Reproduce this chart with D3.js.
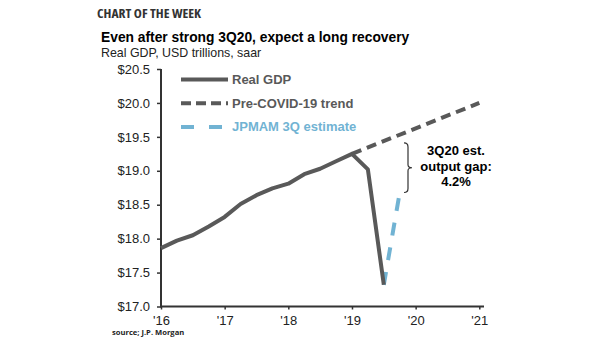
<!DOCTYPE html>
<html>
<head>
<meta charset="utf-8">
<title>Chart of the week</title>
<script src="https://d3js.org/d3.v7.min.js"></script>
<style>
  body { margin: 0; background: #fff; }
  text { font-family: "Liberation Sans", Arial, sans-serif; }
</style>
</head>
<body>
<div id="chart"></div>
<script>
// quarterly points, x in years
var gdpDates = [2016, 2016.25, 2016.5, 2016.75, 2017, 2017.25, 2017.5, 2017.75,
                2018, 2018.25, 2018.5, 2018.75, 2019, 2019.25, 2019.5];
var gdpValues = [17.86, 17.97, 18.05, 18.18, 18.32, 18.51, 18.64, 18.74,
                 18.81, 18.95, 19.03, 19.14, 19.25, 19.02, 17.32];
var trendDates = [2019, 2021];
var trendValues = [19.25, 20.0];
var estDates = [2019.5, 2019.75];
var estValues = [17.32, 18.68];
var yTicks = [17.0, 17.5, 18.0, 18.5, 19.0, 19.5, 20.0, 20.5];
var xTicks = [2016, 2017, 2018, 2019, 2020, 2021];
var xTickLabels = ["'16", "'17", "'18", "'19", "'20", "'21"];
var gapLabel = ["3Q20 est.", "output gap:", "4.2%"];

var W = 605, H = 341;
var gray = "#595959", blue = "#71b3d3";

var svg = d3.select("#chart").append("svg")
  .attr("width", W).attr("height", H);

var x = d3.scaleLinear().domain([2016, 2021]).range([161, 479.3]);
var y = d3.scaleLinear().domain([17, 20.5]).range([306.5, 69]);

// headings
svg.append("text").attr("x", 97).attr("y", 18)
  .style("font-family", "'Open Sans', sans-serif").style("font-stretch", "condensed")
  .style("font-weight", "bold").style("font-size", "12px").attr("fill", "#333")
  .attr("textLength", 104).attr("lengthAdjust", "spacingAndGlyphs")
  .text("CHART OF THE WEEK");
svg.append("text").attr("x", 101).attr("y", 42)
  .style("font-weight", "bold").style("font-size", "13.8px").attr("fill", "#000")
  .text("Even after strong 3Q20, expect a long recovery");
svg.append("text").attr("x", 101).attr("y", 57)
  .style("font-size", "12.4px").attr("fill", "#222")
  .text("Real GDP, USD trillions, saar");

// axes
var yAxis = svg.append("g").attr("transform", "translate(161,0)")
  .call(d3.axisLeft(y).tickValues(yTicks).tickSize(4).tickPadding(7)
    .tickFormat(function(d) { return "$" + d3.format(".1f")(d); }));
var xAxis = svg.append("g").attr("transform", "translate(0," + y(17) + ")")
  .call(d3.axisBottom(x).tickValues(xTicks).tickSize(3).tickPadding(6)
    .tickFormat(function(d, i) { return xTickLabels[i]; }));
xAxis.select(".domain").attr("d", "M161,0H484");
yAxis.select(".domain").attr("d", "M0," + y(20.5) + "V" + (y(17) + 1));
[xAxis, yAxis].forEach(function(a) {
  a.selectAll(".domain").attr("stroke", "#333").attr("stroke-width", 2);
  a.selectAll(".tick line").attr("stroke", "#333").attr("stroke-width", 1.5);
  a.selectAll("text").style("font-family", "'Liberation Sans', Arial, sans-serif")
    .style("font-size", "13px").attr("fill", "#222");
});

var line = d3.line().x(function(d) { return x(d[0]); }).y(function(d) { return y(d[1]); });
var zip = function(a, b) { return a.map(function(v, i) { return [v, b[i]]; }); };

svg.append("path").datum(zip(trendDates, trendValues)).attr("d", line)
  .attr("fill", "none").attr("stroke", gray).attr("stroke-width", 4)
  .attr("stroke-dasharray", "10,6");
svg.append("path").datum(zip(estDates, estValues)).attr("d", line)
  .attr("fill", "none").attr("stroke", blue).attr("stroke-width", 4)
  .attr("stroke-dasharray", "13,12");
svg.append("path").datum(zip(gdpDates, gdpValues)).attr("d", line)
  .attr("fill", "none").attr("stroke", gray).attr("stroke-width", 4)
  .attr("stroke-linejoin", "round");

// legend
var legend = [
  {label: "Real GDP", color: gray, dash: null},
  {label: "Pre-COVID-19 trend", color: gray, dash: "10,5"},
  {label: "JPMAM 3Q estimate", color: blue, dash: "13,15"}
];
legend.forEach(function(d, i) {
  var ly = 79.5 + i * 23.7;
  svg.append("line").attr("x1", 181).attr("x2", 228).attr("y1", ly).attr("y2", ly)
    .attr("stroke", d.color).attr("stroke-width", 4).attr("stroke-dasharray", d.dash);
  svg.append("text").attr("x", 232).attr("y", ly + 4.5)
    .style("font-weight", "bold").style("font-size", "13px").attr("fill", d.color)
    .text(d.label);
});

// output gap brace
var bx = 408, by0 = y(19.41), by1 = y(18.68), bm = (by0 + by1) / 2;
svg.append("path")
  .attr("d", "M" + (bx - 4) + "," + by0 + "Q" + bx + "," + by0 + " " + bx + "," + (by0 + 4) +
    "V" + (bm - 3) + "Q" + bx + "," + bm + " " + (bx + 4) + "," + bm +
    "Q" + bx + "," + bm + " " + bx + "," + (bm + 3) +
    "V" + (by1 - 4) + "Q" + bx + "," + by1 + " " + (bx - 4) + "," + by1)
  .attr("fill", "none").attr("stroke", "#333").attr("stroke-width", 1.2);
svg.append("text").attr("text-anchor", "middle")
  .style("font-weight", "bold").style("font-size", "13px").attr("fill", "#000")
  .selectAll("tspan").data(gapLabel).enter().append("tspan")
  .attr("x", 456).attr("y", function(d, i) { return 155 + i * 15.5; })
  .text(function(d) { return d; });

// source
svg.append("text").attr("x", 112).attr("y", 335)
  .style("font-family", "'Open Sans', sans-serif")
  .style("font-weight", "bold").style("font-size", "7.6px").attr("fill", "#222")
  .text("source; J.P. Morgan");
</script>
</body>
</html>
